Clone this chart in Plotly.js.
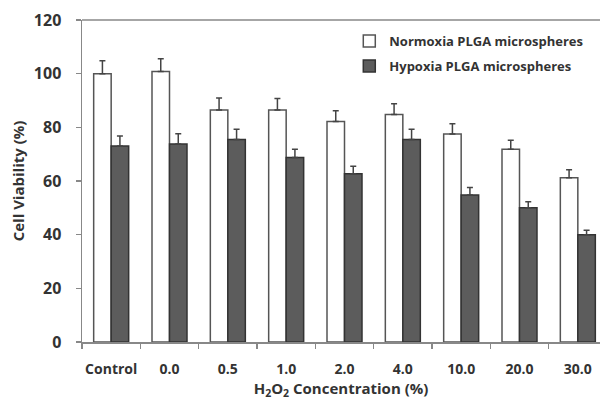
<!DOCTYPE html>
<html>
<head>
<meta charset="utf-8">
<script src="https://cdn.plot.ly/plotly-3.0.1.min.js"></script>
<style>html,body{margin:0;padding:0;background:#fff}#chart{width:600px;height:400px}</style>
</head>
<body>
<div id="chart"></div>
<script>
const categories = ["Control", "0.0", "0.5", "1.0", "2.0", "4.0", "10.0", "20.0", "30.0"];
const normoxia = [100, 100.8, 86.5, 86.5, 82.2, 84.8, 77.5, 71.8, 61.2];
const normoxiaErr = [4.8, 4.8, 4.4, 4.2, 4.0, 4.0, 3.8, 3.4, 3.0];
const hypoxia = [73, 73.8, 75.5, 68.8, 62.7, 75.5, 54.8, 50.0, 40.0];
const hypoxiaErr = [3.8, 3.8, 3.8, 3.0, 2.8, 3.8, 2.8, 2.3, 1.6];
const yTicks = [0, 20, 40, 60, 80, 100, 120];

const fontFam = "Open Sans, Noto Sans, sans-serif";
const txt = "#333";

const traces = [
  {
    type: "bar", name: "Normoxia PLGA microspheres", legendgroup: "n",
    x: categories, y: normoxia,
    marker: {color: "#ffffff", line: {color: "#555555", width: 1.5}},
    error_y: {type: "data", symmetric: false, array: normoxiaErr, arrayminus: normoxia.map(() => 0),
      color: "#444", thickness: 1.5, width: 3}
  },
  {
    type: "bar", name: "Hypoxia PLGA microspheres", legendgroup: "h",
    x: categories, y: hypoxia,
    marker: {color: "#5c5c5c", line: {color: "#333333", width: 1.5}},
    error_y: {type: "data", symmetric: false, array: hypoxiaErr, arrayminus: hypoxia.map(() => 0),
      color: "#444", thickness: 1.5, width: 3}
  }
];

const layout = {
  width: 600, height: 400,
  margin: {l: 82, r: 0, t: 20, b: 58},
  paper_bgcolor: "#fff", plot_bgcolor: "#fff",
  barmode: "group", bargap: 0.4, bargroupgap: 0,
  font: {family: fontFam, color: txt},
  showlegend: true,
  legend: {
    x: 0.516, y: 0.981, xanchor: "left", yanchor: "top",
    bgcolor: "rgba(0,0,0,0)",
    font: {family: fontFam, size: 13, color: txt, weight: "bold"},
    tracegroupgap: 5, itemwidth: 30
  },
  xaxis: {
    type: "category",
    range: [-0.5, 8.38],
    showline: true, linecolor: "#888", linewidth: 1.5,
    ticks: "outside", ticklen: 5, tickcolor: "#888", tickwidth: 1.5,
    tickson: "boundaries", ticklabelstandoff: 14, tickangle: 0,
    showgrid: false, zeroline: false,
    tickfont: {family: fontFam, size: 14, color: txt, weight: "bold"},
    title: {text: "H<sub>2</sub>O<sub>2</sub> Concentration (%)", standoff: 10,
      font: {family: fontFam, size: 15, color: txt, weight: "bold"}}
  },
  yaxis: {
    range: [0, 120],
    tickvals: yTicks,
    showline: true, linecolor: "#888", linewidth: 1.5,
    ticks: "outside", ticklen: 5, tickcolor: "#888", tickwidth: 1.5,
    ticklabelstandoff: 11,
    showgrid: false, zeroline: false,
    tickfont: {family: fontFam, size: 16, color: txt, weight: "bold"},
    title: {text: "Cell Viability (%)", standoff: 5,
      font: {family: fontFam, size: 15, color: txt, weight: "bold"}}
  },
  shapes: [
    {type: "line", xref: "paper", yref: "paper", x0: 0, x1: 1, y0: 1, y1: 1,
     line: {color: "#888", width: 1.5}}
  ]
};

Plotly.newPlot("chart", traces, layout, {staticPlot: true});
</script>
</body>
</html>
